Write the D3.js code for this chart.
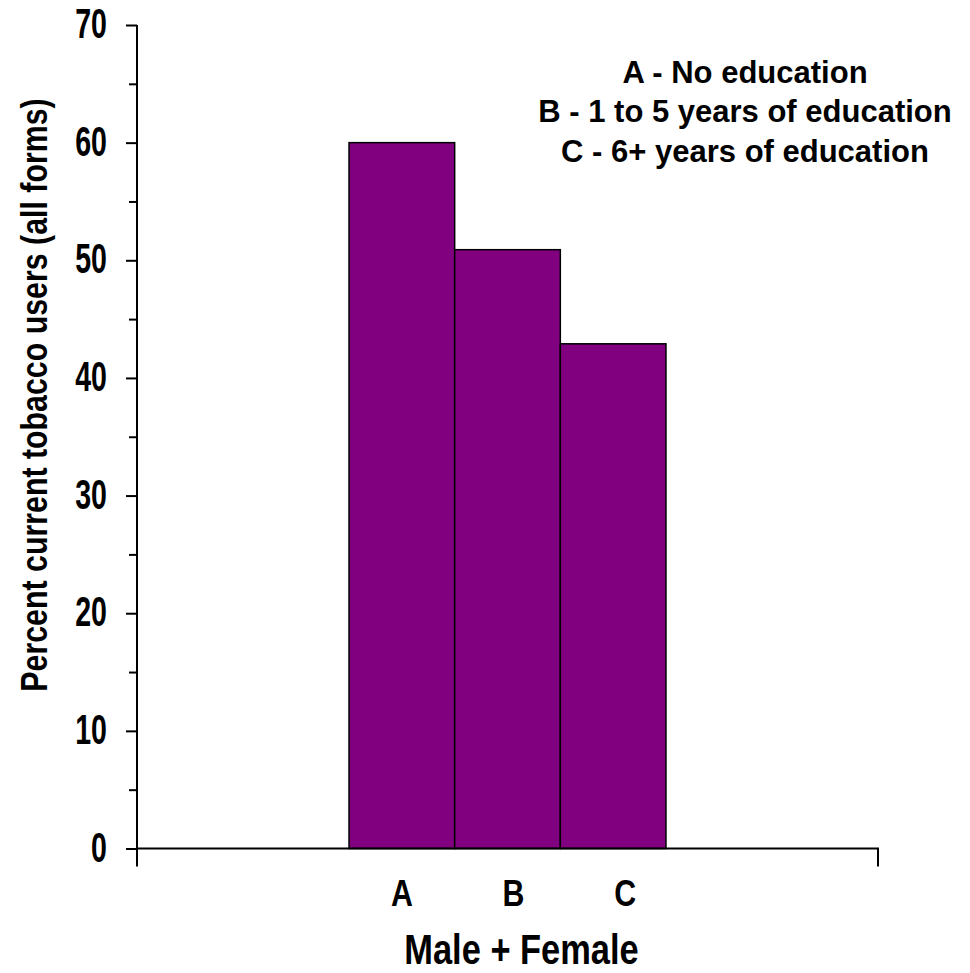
<!DOCTYPE html>
<html>
<head>
<meta charset="utf-8">
<style>
body { margin: 0; background: #fff; }
svg { font-family: "Liberation Sans", Arial, sans-serif; font-weight: bold; }
</style>
<script src="https://d3js.org/d3.v7.min.js"></script>
</head>
<body>
<svg id="chart" width="970" height="973"></svg>
<script>

// data
var group = ["Male + Female"];
var levels = ["A", "B", "C"];
var values = [60, 50.9, 42.9];
var legendLines = ["A - No education", "B - 1 to 5 years of education", "C - 6+ years of education"];
var yTicks = [0, 10, 20, 30, 40, 50, 60, 70];
var yMinor = [5, 15, 25, 35, 45, 55, 65];
var yTitle = "Percent current tobacco users (all forms)";

var svg = d3.select("#chart");

// plot box ("top" is taken by window.top, so use other names)
var plotL = 137, plotR = 878, plotT = 25, plotB = 848.5;

var y = d3.scaleLinear()
    .domain([0, 70])
    .range([plotB, plotT]);

// one category on the axis, bars sit together in the middle
var x0 = d3.scaleBand()
    .domain(group)
    .range([plotL, plotR])
    .paddingInner(0)
    .paddingOuter(0.669);

var x1 = d3.scaleBand()
    .domain(levels)
    .range([0, x0.bandwidth()])
    .padding(0);

// bars
svg.append("g")
    .selectAll("rect")
    .data(levels)
    .enter().append("rect")
    .attr("x", function(d) { return x0(group[0]) + x1(d); })
    .attr("y", function(d, i) { return y(values[i]); })
    .attr("width", x1.bandwidth())
    .attr("height", function(d, i) { return y(0) - y(values[i]); })
    .style("fill", "#800080")
    .style("stroke", "#000")
    .style("stroke-width", 1.5);

// y axis ticks, major every 10 and minor every 5
var yAxis = svg.append("g")
    .attr("transform", "translate(" + plotL + ",0)")
    .call(d3.axisLeft(y).tickValues(yTicks).tickSize(11).tickFormat(""));
yAxis.select(".domain").remove();
yAxis.selectAll(".tick line").style("stroke", "#000").style("stroke-width", 2);

svg.append("g")
    .attr("transform", "translate(" + plotL + ",0)")
    .call(d3.axisLeft(y).tickValues(yMinor).tickSize(8).tickFormat(""))
    .call(function(g) {
        g.select(".domain").remove();
        g.selectAll(".tick line").style("stroke", "#000").style("stroke-width", 2);
    });

// tick numbers are tall and narrow in the original
svg.append("g")
    .selectAll("text")
    .data(yTicks)
    .enter().append("text")
    .attr("transform", function(d) { return "translate(107," + y(d) + ") scale(0.68,1)"; })
    .attr("dy", "0.31em")
    .attr("text-anchor", "end")
    .style("font-size", "42px")
    .text(function(d) { return d; });

// axis lines
svg.append("line")
    .attr("x1", plotL).attr("x2", plotL)
    .attr("y1", y(70)).attr("y2", y(0) + 18)
    .style("stroke", "#000").style("stroke-width", 2);
svg.append("path")
    .attr("d", "M" + plotL + "," + y(0) + "H" + plotR + "V" + (y(0) + 18))
    .style("fill", "none")
    .style("stroke", "#000").style("stroke-width", 2);

// category letters under the bars
svg.append("g")
    .selectAll("text")
    .data(levels)
    .enter().append("text")
    .attr("transform", function(d, i) {
        var cx = x0(group[0]) + x1(d) + x1.bandwidth() / 2 + i * 6;
        return "translate(" + cx + "," + (y(0) + 57) + ") scale(0.82,1)";
    })
    .attr("text-anchor", "middle")
    .style("font-size", "37px")
    .text(function(d) { return d; });

// x title
svg.append("text")
    .attr("transform", "translate(" + (x0(group[0]) + x0.bandwidth() / 2 + 14) + ",964) scale(0.82,1)")
    .attr("text-anchor", "middle")
    .style("font-size", "42px")
    .text(group[0]);

// y title
svg.append("text")
    .attr("transform", "translate(47,395) rotate(-90) scale(0.82,1)")
    .attr("text-anchor", "middle")
    .style("font-size", "37px")
    .text(yTitle);

// legend
svg.append("g")
    .selectAll("text")
    .data(legendLines)
    .enter().append("text")
    .attr("x", 745)
    .attr("y", function(d, i) { return 82.5 + i * 39.5; })
    .attr("text-anchor", "middle")
    .style("font-size", "31px")
    .text(function(d) { return d; });

</script>
</body>
</html>
